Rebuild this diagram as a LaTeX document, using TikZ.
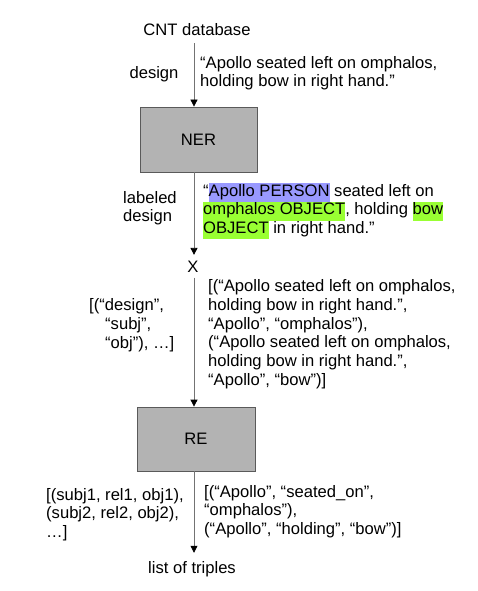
\documentclass[tikz,border=0pt]{standalone}
\usepackage{fontspec}
\setmainfont{Liberation Sans}
\usetikzlibrary{arrows.meta}
\definecolor{boxfill}{RGB}{179,179,179}
\definecolor{boxline}{RGB}{90,90,90}
\definecolor{hlblue}{RGB}{153,153,255}
\definecolor{hlgreen}{RGB}{153,255,51}
\newcommand{\hlb}[1]{{\setlength{\fboxsep}{0pt}\colorbox{hlblue}{\strut #1}}}
\newcommand{\hlg}[1]{{\setlength{\fboxsep}{0pt}\colorbox{hlgreen}{\strut #1}}}
\begin{document}
\begin{tikzpicture}[x=1pt,y=-1pt,
  every node/.style={font=\fontsize{16.6}{18.7}\selectfont, text=black},
  lbl/.style={inner sep=0pt, align=left, anchor=north west},
  single/.style={inner xsep=0pt, anchor=base},
  procbox/.style={draw=boxline, fill=boxfill, line width=0.8pt, inner sep=0pt},
  arr/.style={draw=black!55, line width=0.8pt, -{Triangle[length=7pt,width=7pt,color=black]}}]
\useasboundingbox (0,0) rectangle (478,591);
\coordinate (ax) at (194,0);

\node[single, inner ysep=7pt] (cnt) at (197,36) {CNT database};
\node[single] (design) at (154,79) {design};
\node[lbl] (q1) at (200,54.9) {\strut “Apollo seated left on omphalos,\\holding bow in right hand.”};

\node[procbox, minimum width=117pt, minimum height=65pt] (ner) at (198.5,139.5) {NER};

\node[lbl] (labd) at (123,189.9) {\strut labeled\\design};
\node[lbl] (q2) at (203,182.9) {\strut “\hlb{Apollo PERSON} seated left on\\\hlg{omphalos OBJECT}, holding \hlg{bow}\\\hlg{OBJECT} in right hand.”};

\node[single, inner ysep=5.5pt] (X) at (193,272) {X};

\node[lbl] (l3) at (89,297.6) {\strut [(“design”,\\\hspace*{16pt}“subj”,\\\hspace*{16pt}“obj”), …]};
\node[lbl] (r3) at (208,278.6) {\strut [(“Apollo seated left on omphalos,\\holding bow in right hand.”,\\“Apollo”, “omphalos”),\\(“Apollo seated left on omphalos,\\holding bow in right hand.”,\\“Apollo”, “bow”)]};

\node[procbox, minimum width=118pt, minimum height=64pt] (re) at (196,439) {RE};

\node[lbl] (l5) at (46,486.9) {\strut [(subj1, rel1, obj1),\\(subj2, rel2, obj2),\\…]};
\node[lbl] (r5) at (204,483.9) {\strut [(“Apollo”, “seated\_on”,\\“omphalos”),\\(“Apollo”, “holding”, “bow”)]};

\node[single, inner ysep=8pt] (lot) at (192,573) {list of triples};

\draw[arr] (cnt.south -| ax) -- (ner.north -| ax);
\draw[arr] (ner.south -| ax) -- (X.north -| ax);
\draw[arr] (X.south -| ax) -- (re.north -| ax);
\draw[arr] (re.south -| ax) -- (lot.north -| ax);
\end{tikzpicture}
\end{document}
